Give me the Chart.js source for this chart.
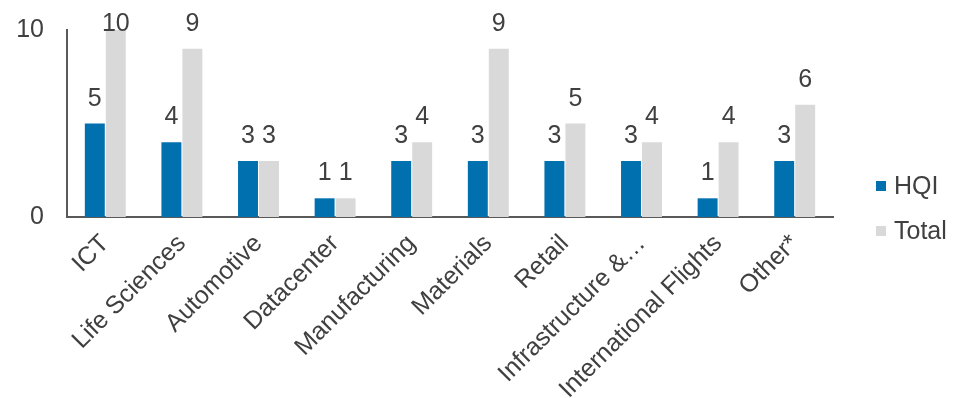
<!DOCTYPE html>
<html>
<head>
<meta charset="utf-8">
<script src="https://cdn.jsdelivr.net/npm/chart.js@4.4.1/dist/chart.umd.min.js"></script>
<style>
  body { margin: 0; background: #fff; }
  #wrap { position: relative; width: 955px; height: 398px; }
  #legend { position: absolute; left: 876px; top: 163px; font: 25px 'Liberation Sans', Arial, sans-serif; color: #404040; }
  #legend div { display: flex; align-items: center; height: 45px; }
  #legend span.box { display: inline-block; width: 10px; height: 10px; margin-right: 8px; }
</style>
</head>
<body>
<div id="wrap">
  <canvas id="sectors" width="955" height="398"></canvas>
  <div id="legend"></div>
</div>
<script>
const categories = ['ICT', 'Life Sciences', 'Automotive', 'Datacenter', 'Manufacturing', 'Materials', 'Retail', 'Infrastructure &…', 'International Flights', 'Other*'];
const hqi = [5, 4, 3, 1, 3, 3, 3, 3, 1, 3];
const total = [10, 9, 3, 1, 4, 9, 5, 4, 4, 6];
const yTicks = [0, 10];

const BLUE = '#0070AF';
const GREY = '#D9D9D9';
const TEXT = '#404040';
const FONT = "'Liberation Sans', Arial, sans-serif";

// value labels above each bar, kept inside the canvas at the top
const valueLabels = {
    id: 'valueLabels',
    afterDatasetsDraw(chart) {
        const ctx = chart.ctx;
        ctx.save();
        ctx.font = '25px ' + FONT;
        ctx.fillStyle = TEXT;
        ctx.textAlign = 'center';
        ctx.textBaseline = 'alphabetic';
        chart.data.datasets.forEach((ds, i) => {
            chart.getDatasetMeta(i).data.forEach((bar, j) => {
                ctx.fillText(String(ds.data[j]), bar.x, Math.max(bar.y - 18, 31));
            });
        });
        ctx.restore();
    }
};

document.addEventListener('DOMContentLoaded', function () {
    let datasets = [
        { label: 'HQI', data: hqi, backgroundColor: BLUE },
        { label: 'Total', data: total, backgroundColor: GREY }
    ];

    let legend = document.getElementById('legend');
    datasets.forEach(ds => {
        let row = document.createElement('div');
        row.innerHTML = `<span class="box" style="background:${ds.backgroundColor}"></span>${ds.label}`;
        legend.appendChild(row);
    });

    let ctx = document.getElementById('sectors').getContext('2d');
    new Chart(ctx, {
        type: 'bar',
        data: { labels: categories, datasets: datasets },
        options: {
            responsive: false,
            animation: false,
            categoryPercentage: 0.548,
            barPercentage: 0.95,
            layout: { padding: { top: 12, right: 122, left: 0, bottom: 0 } },
            plugins: {
                legend: { display: false },
                tooltip: { enabled: false }
            },
            scales: {
                x: {
                    grid: { display: false },
                    border: { display: true, color: '#595959', width: 2 },
                    ticks: {
                        color: TEXT,
                        font: { family: FONT, size: 25 },
                        minRotation: 45,
                        maxRotation: 45,
                        autoSkip: false,
                        padding: 4
                    },
                    afterFit(scale) { scale.height = 181; }
                },
                y: {
                    min: 0,
                    max: 10,
                    grid: { display: false },
                    border: { display: true, color: '#595959', width: 2 },
                    afterBuildTicks(scale) { scale.ticks = yTicks.map(v => ({ value: v })); },
                    ticks: {
                        color: TEXT,
                        font: { family: FONT, size: 25 },
                        padding: 15
                    },
                    afterFit(scale) { scale.width = 67; }
                }
            }
        },
        plugins: [valueLabels]
    });
});
</script>
</body>
</html>
